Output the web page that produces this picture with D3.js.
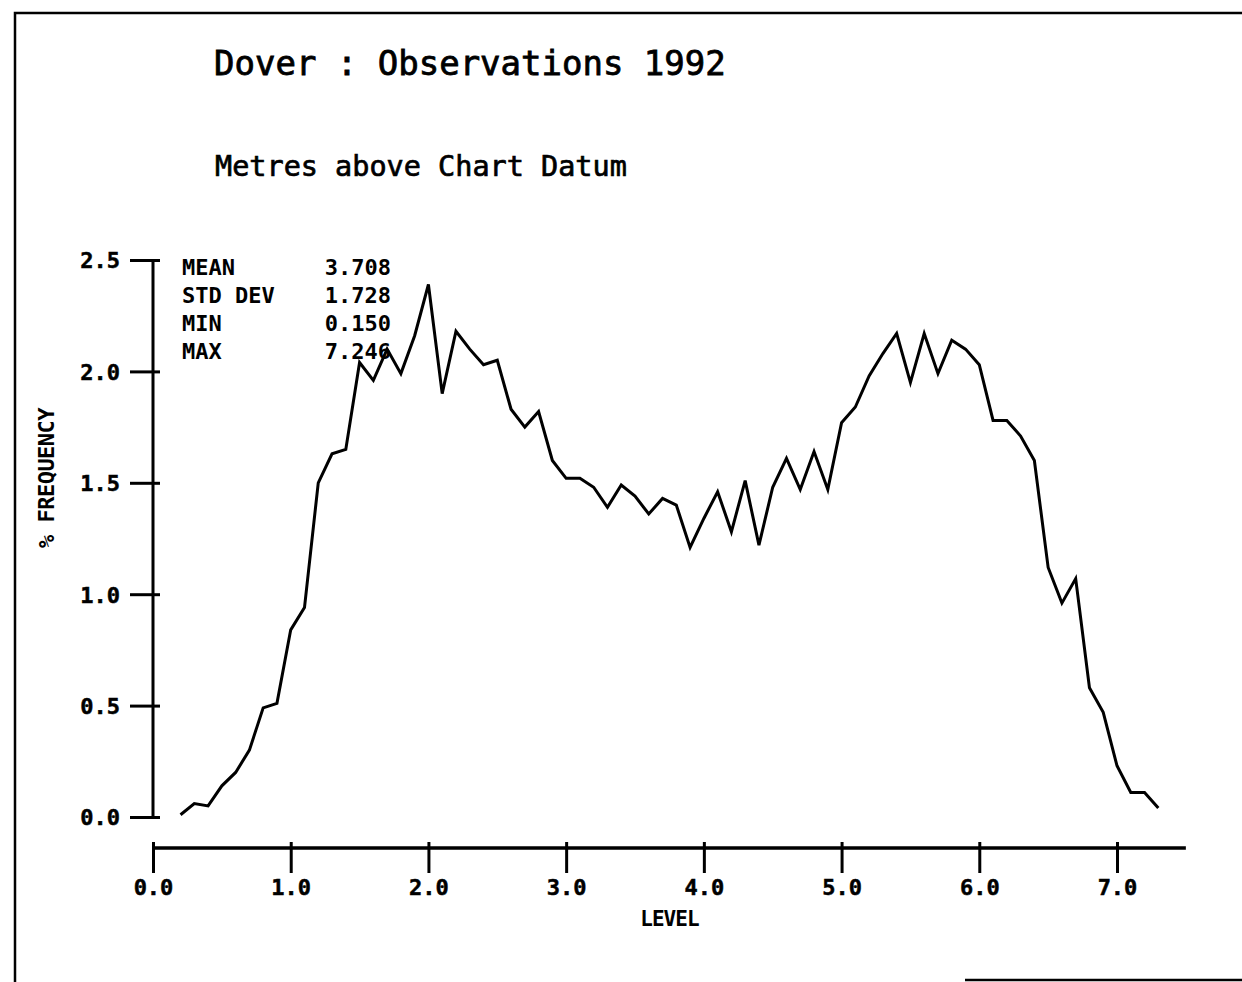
<!DOCTYPE html>
<html>
<head>
<meta charset="utf-8">
<script src="https://cdn.jsdelivr.net/npm/d3@7"></script>
<style>
  body { margin: 0; background: #fff; }
  svg { display: block; }
  text { fill: #000; }
</style>
</head>
<body>
<div id="chart"></div>
<script>
// level (m above chart datum) and % frequency
const levels = [
  0.2, 0.3, 0.4, 0.5, 0.6, 0.7, 0.8, 0.9, 1.0, 1.1, 1.2, 1.3, 1.4, 1.5, 1.6, 1.7, 1.8, 1.9,
  2.0, 2.1, 2.2, 2.3, 2.4, 2.5, 2.6, 2.7, 2.8, 2.9, 3.0, 3.1, 3.2, 3.3, 3.4, 3.5, 3.6, 3.7,
  3.8, 3.9, 4.0, 4.1, 4.2, 4.3, 4.4, 4.5, 4.6, 4.7, 4.8, 4.9, 5.0, 5.1, 5.2, 5.3, 5.4, 5.5,
  5.6, 5.7, 5.8, 5.9, 6.0, 6.1, 6.2, 6.3, 6.4, 6.5, 6.6, 6.7, 6.8, 6.9, 7.0, 7.1, 7.2, 7.3
]
const frequency = [
  0.01, 0.06, 0.05, 0.14, 0.20, 0.30, 0.49, 0.51, 0.84, 0.94, 1.50, 1.63, 1.65, 2.04, 1.96, 2.10, 1.99, 2.16,
  2.39, 1.90, 2.18, 2.10, 2.03, 2.05, 1.83, 1.75, 1.82, 1.60, 1.52, 1.52, 1.48, 1.39, 1.49, 1.44, 1.36, 1.43,
  1.40, 1.21, 1.34, 1.46, 1.28, 1.51, 1.22, 1.48, 1.61, 1.47, 1.64, 1.47, 1.77, 1.84, 1.98, 2.08, 2.17, 1.95,
  2.17, 1.99, 2.14, 2.10, 2.03, 1.78, 1.78, 1.71, 1.60, 1.12, 0.96, 1.07, 0.58, 0.47, 0.23, 0.11, 0.11, 0.04
]
const xTicks = [0, 1, 2, 3, 4, 5, 6, 7]
const yTicks = [0, 0.5, 1.0, 1.5, 2.0, 2.5]
const statNames = ['MEAN', 'STD DEV', 'MIN', 'MAX']
const statValues = ['3.708', '1.728', '0.150', '7.246']

const title = 'Dover : Observations 1992'
const subtitle = 'Metres above Chart Datum'

const width = 1242
const height = 982
const mono = '"DejaVu Sans Mono", monospace'

const svg = d3.select('#chart').append('svg')
  .attr('width', width)
  .attr('height', height)

// page frame (scanned sheet edges)
svg.append('path')
  .attr('d', 'M15,982 L15,13 L1242,13 M965,980 L1242,980')
  .attr('fill', 'none')
  .attr('stroke', '#000')
  .attr('stroke-width', 2.5)

const x = d3.scaleLinear().domain([0, 7]).range([153, 1117])
const y = d3.scaleLinear().domain([0, 2.5]).range([817, 260])
const xAxisY = 848

// plotter-style heavy strokes on the headings
svg.append('text')
  .attr('x', 214)
  .attr('y', 75)
  .style('font-family', mono)
  .style('font-size', '34px')
  .style('stroke', '#000')
  .style('stroke-width', '0.8px')
  .text(title)

svg.append('text')
  .attr('x', 215)
  .attr('y', 176)
  .style('font-family', mono)
  .style('font-size', '28.5px')
  .style('stroke', '#000')
  .style('stroke-width', '0.7px')
  .text(subtitle)

// y axis
const yAxis = svg.append('g')
  .attr('transform', `translate(${x(0)},0)`)
  .call(d3.axisLeft(y).tickValues(yTicks).tickSize(23).tickPadding(10).tickFormat(d3.format('.1f')))
yAxis.select('.domain').remove()
yAxis.append('line')
  .attr('y1', y(0)).attr('y2', y(2.5))
  .attr('stroke', '#000').attr('stroke-width', 3)
yAxis.selectAll('.tick line')
  .attr('x2', -23).attr('x1', 7)
  .attr('stroke-width', 3)
yAxis.selectAll('.tick text')
  .attr('dy', '0.36em')
  .style('font-family', mono)
  .style('font-size', '22px')
  .style('font-weight', 'bold')
  .style('stroke', '#000')
  .style('stroke-width', '0.5px')

// x axis
const xAxis = svg.append('g')
  .attr('transform', `translate(0,${xAxisY})`)
  .call(d3.axisBottom(x).tickValues(xTicks).tickSize(25).tickPadding(6).tickFormat(d3.format('.1f')))
xAxis.select('.domain').remove()
xAxis.append('line')
  .attr('x1', x(0)).attr('x2', x(7.5))
  .attr('stroke', '#000').attr('stroke-width', 3.5)
xAxis.selectAll('.tick line')
  .attr('y1', -6)
  .attr('stroke-width', 3)
xAxis.selectAll('.tick text')
  .style('font-family', mono)
  .style('font-size', '22px')
  .style('font-weight', 'bold')
  .style('stroke', '#000')
  .style('stroke-width', '0.5px')

svg.append('text')
  .attr('x', (x(0) + x(7.5)) / 2)
  .attr('y', 926)
  .attr('text-anchor', 'middle')
  .style('font-family', mono)
  .style('font-size', '21px')
  .style('font-weight', 'bold')
  .style('letter-spacing', '-1px')
  .text('LEVEL')

svg.append('text')
  .attr('transform', 'translate(54,478) rotate(-90)')
  .attr('text-anchor', 'middle')
  .style('font-family', mono)
  .style('font-size', '22px')
  .style('font-weight', 'bold')
  .style('letter-spacing', '-0.5px')
  .text('% FREQUENCY')

// summary statistics
const stats = svg.append('g')
stats.selectAll('text.name')
  .data(statNames)
  .enter()
  .append('text')
  .attr('class', 'name')
  .attr('x', 182)
  .attr('y', (d, i) => 275 + i * 28)
  .style('font-family', mono)
  .style('font-size', '22px')
  .style('font-weight', 'bold')
  .text(d => d)
stats.selectAll('text.value')
  .data(statValues)
  .enter()
  .append('text')
  .attr('class', 'value')
  .attr('x', 391)
  .attr('y', (d, i) => 275 + i * 28)
  .attr('text-anchor', 'end')
  .style('font-family', mono)
  .style('font-size', '22px')
  .style('font-weight', 'bold')
  .text(d => d)

// frequency curve
const line = d3.line()
  .x(d => x(d[0]))
  .y(d => y(d[1]))

svg.append('path')
  .datum(d3.zip(levels, frequency))
  .attr('d', line)
  .attr('fill', 'none')
  .attr('stroke', '#000')
  .attr('stroke-width', 3)
  .attr('stroke-linejoin', 'miter')
</script>
</body>
</html>
